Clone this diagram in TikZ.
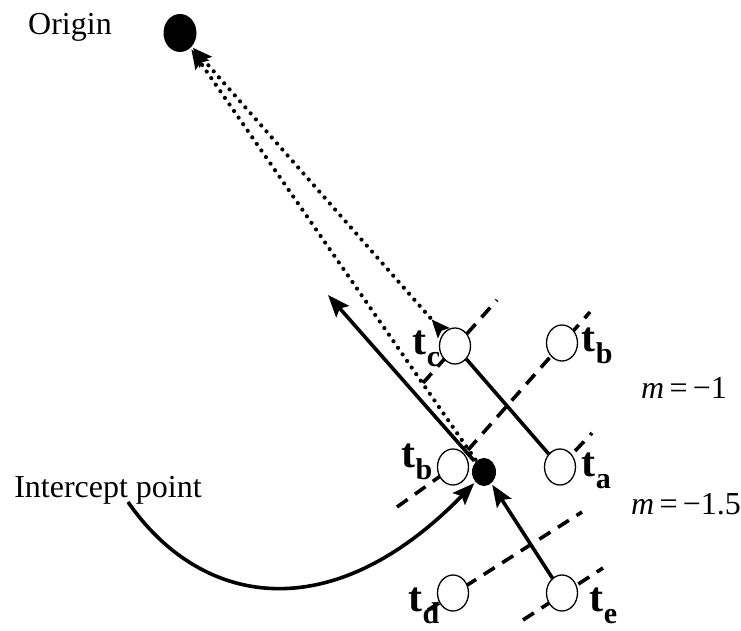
\documentclass[tikz,border=0pt]{standalone}
\usepackage{fontspec}
\setmainfont{Liberation Serif}
\usetikzlibrary{arrows.meta,shapes.geometric}
\newcommand{\tlab}[1]{{\fontsize{42pt}{42pt}\selectfont\bfseries t\raisebox{-12pt}{\fontsize{30pt}{30pt}\selectfont #1}}}

\begin{document}
\begin{tikzpicture}[x=1pt,y=1pt,line width=3.6pt,
  every node/.style={font=\fontsize{32pt}{34pt}\selectfont,inner sep=0pt},
  obs/.style={ellipse,draw,line width=1.3pt,fill=white,minimum width=31pt,minimum height=36pt},
  blob/.style={ellipse,fill=black,minimum width=#1},
  perp/.style={dash pattern=on 13pt off 9pt},
  track/.style={line width=4.2pt,dash pattern=on 0pt off 8pt,line cap=round},
  arrowed/.style={-{Stealth[length=22pt,width=17pt,inset=4pt]}}]
  \useasboundingbox (0,0) rectangle (741,631);
  \coordinate (pc)  at (455,285);
  \coordinate (pbu) at (562,288);
  \coordinate (pbm) at (453,164);
  \coordinate (pa)  at (560,164);
  \coordinate (pd)  at (453,38);
  \coordinate (pe)  at (562,38);
  % perpendiculars, m=-1 group and m=-1.5 group
  \draw[perp] (423,248) -- (497,331);
  \draw[perp] (468,181) -- (590,319);
  \draw[perp] (pa) -- (592,198);
  \draw[perp] (397,124) -- (pbm);
  \draw[perp] (428,21) -- (582,119);
  \draw[perp] (523,11) -- (603,63);
  \node[obs] (tc)  at (pc)  {};
  \node[obs] (tbu) at (pbu) {};
  \node[obs] (tbm) at (pbm) {};
  \node[obs] (ta)  at (pa)  {};
  \node[obs] (td)  at (pd)  {};
  \node[obs] (te)  at (pe)  {};
  \node[blob=33pt,minimum height=38pt] (O) at (180,598) {};
  \node[blob=24pt,minimum height=28pt] (X) at (484,159) {};
  \coordinate (fw) at (328,336);
  \coordinate (cs) at (128,129);
  \draw (ta) -- (tc);
  \draw[arrowed] (te) -- (X);
  \draw[arrowed] (X) -- (fw);
  \draw[track,{Stealth[reversed,length=18pt,width=15pt,inset=3pt]}-{Stealth[length=19pt,width=16pt,inset=3pt]}] (tc) -- (O);
  \draw[track,-{Stealth[length=19pt,width=16pt,inset=3pt]}] (X) -- (O);
  \draw[arrowed] (cs) .. controls (200,25) and (330,0) .. (X.south west);
  \node[anchor=base] (lo) at (70,596) {Origin};
  \node[anchor=base] (li) at (108,133) {Intercept point};
  \node[anchor=base] (lm1) at (684,232) {\textit{m}\,=\,−1};
  \node[anchor=base] (lm2) at (686,116) {\textit{m}\,=\,−1.5};
  \node[anchor=base east] (ltc)  at (442,276) {\tlab{c}};
  \node[anchor=base west] (ltbu) at (580,279) {\tlab{b}};
  \node[anchor=base east] (ltbm) at (434,163) {\tlab{b}};
  \node[anchor=base west] (lta)  at (580,154) {\tlab{a}};
  \node[anchor=base east] (ltd)  at (441,19)  {\tlab{d}};
  \node[anchor=base west] (lte)  at (588,19)  {\tlab{e}};
\end{tikzpicture}
\end{document}
